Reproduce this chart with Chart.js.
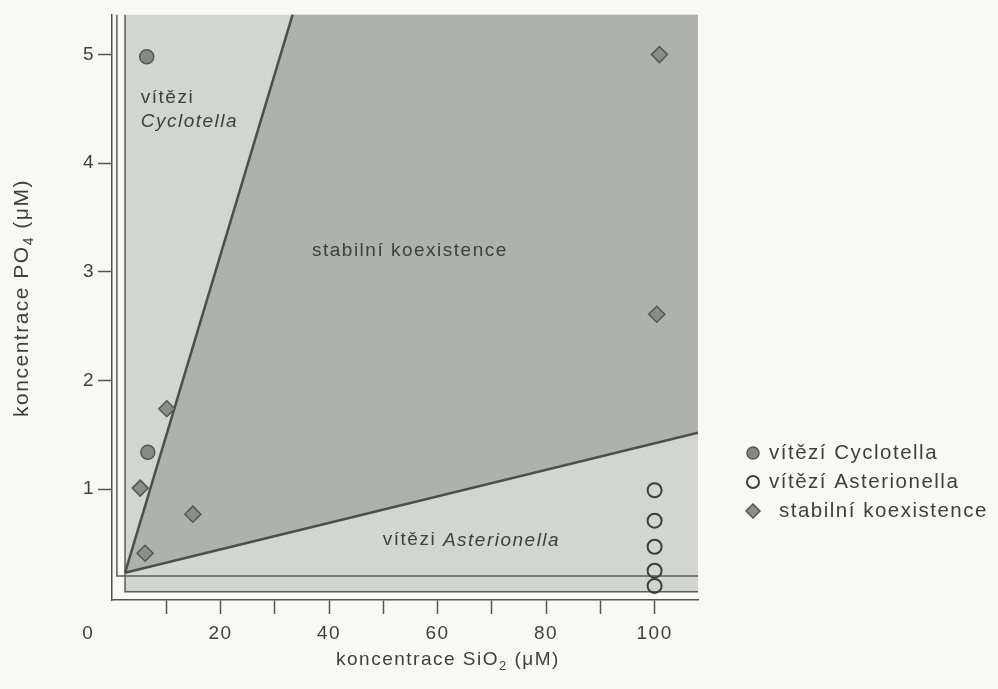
<!DOCTYPE html>
<html>
<head>
<meta charset="utf-8">
<script src="https://cdn.jsdelivr.net/npm/chart.js@4"></script>
<style>
  html, body { margin: 0; padding: 0; background: #f8f8f6; }
  canvas { display: block; }
</style>
</head>
<body>
<canvas id="grafKonkurence" width="998" height="689"></canvas>
<script>
    // body (SiO2 µM, PO4 µM)
    const vitezCyclotella = [{ x: 6.4, y: 4.98 }, { x: 6.6, y: 1.34 }];
    const vitezAsterionella = [
        { x: 100, y: 0.99 }, { x: 100, y: 0.71 }, { x: 100, y: 0.47 },
        { x: 100, y: 0.25 }, { x: 100, y: 0.11 }
    ];
    const koexistence = [
        { x: 10.1, y: 1.74 }, { x: 5.2, y: 1.01 }, { x: 14.9, y: 0.77 },
        { x: 6.1, y: 0.41 }, { x: 100.9, y: 5.0 }, { x: 100.4, y: 2.61 }
    ];

    // izokliny a spotřební vektory
    const izoklinaA = [{ x: 0.9, y: 5.37 }, { x: 0.9, y: 0.20 }, { x: 108, y: 0.20 }];
    const izoklinaB = [{ x: 2.4, y: 5.37 }, { x: 2.4, y: 0.055 }, { x: 108, y: 0.055 }];
    const vektorStrmy = [{ x: 2.4, y: 0.23 }, { x: 33.3, y: 5.37 }];
    const vektorPlochy = [{ x: 2.4, y: 0.23 }, { x: 108, y: 1.52 }];

    // oblasti
    const oblastRust = [
        { x: 2.4, y: 0.055 }, { x: 108, y: 0.055 }, { x: 108, y: 5.37 },
        { x: 2.4, y: 5.37 }, { x: 2.4, y: 0.055 }
    ];
    const oblastKoexistence = [
        { x: 2.4, y: 0.23 }, { x: 33.3, y: 5.37 }, { x: 108, y: 5.37 },
        { x: 108, y: 1.52 }, { x: 2.4, y: 0.23 }
    ];

    const xTicks = [0, 10, 20, 30, 40, 50, 60, 70, 80, 90, 100];
    const xPopisy = [0, 20, 40, 60, 80, 100];
    const yTicks = [1, 2, 3, 4, 5];

    const legenda = ['vítězí Cyclotella', 'vítězí Asterionella', 'stabilní koexistence'];

    const PISMO = "'Liberation Sans', Arial, 'DejaVu Sans', sans-serif";
    const TEXT = '#3f3f3f';

    function nastavMezery(chart) {
        chart.ctx.letterSpacing = '1.5px';
    }

    // text s dolním indexem
    function kresliText(ctx, casti, x, y, zarovnani, velikost) {
        const v = velikost || 19;
        const font = c => (c.sub ? Math.round(v * 0.68) + 'px ' : (c.it ? 'italic ' + v + 'px ' : v + 'px ')) + PISMO;
        let sirka = 0;
        casti.forEach(c => {
            ctx.font = font(c);
            sirka += ctx.measureText(c.t).width;
        });
        let cx = zarovnani === 'center' ? x - sirka / 2 : x;
        ctx.textAlign = 'left';
        ctx.textBaseline = 'middle';
        casti.forEach(c => {
            ctx.font = font(c);
            ctx.fillText(c.t, cx, c.sub ? y + v * 0.32 : y);
            cx += ctx.measureText(c.t).width;
        });
    }

    const popisky = {
        id: 'popisky',
        beforeLayout: nastavMezery,
        beforeDraw(chart) {
            nastavMezery(chart);
            const ctx = chart.ctx;
            ctx.save();
            ctx.fillStyle = '#f8f8f6';
            ctx.fillRect(0, 0, chart.width, chart.height);
            ctx.restore();
        },
        afterDatasetsDraw(chart) {
            const ctx = chart.ctx;
            const sx = chart.scales.x, sy = chart.scales.y;
            ctx.save();
            ctx.letterSpacing = '1.5px';
            ctx.fillStyle = TEXT;

            kresliText(ctx, [{ t: 'vítězi' }], sx.getPixelForValue(5.3), sy.getPixelForValue(4.6), 'left');
            kresliText(ctx, [{ t: 'Cyclotella', it: true }], sx.getPixelForValue(5.3), sy.getPixelForValue(4.38), 'left');
            kresliText(ctx, [{ t: 'stabilní koexistence' }], sx.getPixelForValue(54.9), sy.getPixelForValue(3.19), 'center');
            kresliText(ctx, [{ t: 'vítězi ' }, { t: 'Asterionella', it: true }], sx.getPixelForValue(49.9), sy.getPixelForValue(0.53), 'left');

            // názvy os
            kresliText(ctx, [{ t: 'koncentrace SiO' }, { t: '2', sub: true }, { t: ' (μM)' }], 448, 660, 'center');
            ctx.save();
            ctx.translate(22, 298);
            ctx.rotate(-Math.PI / 2);
            kresliText(ctx, [{ t: 'koncentrace PO' }, { t: '4', sub: true }, { t: ' (μM)' }], 0, 0, 'center', 21);
            ctx.restore();

            // legenda
            const radky = [453, 482, 511];
            const sady = [chart.data.datasets[0], chart.data.datasets[1], chart.data.datasets[2]];
            sady.forEach((ds, i) => {
                const mx = 753, my = radky[i];
                ctx.fillStyle = ds.pointBackgroundColor;
                ctx.strokeStyle = ds.pointBorderColor;
                ctx.lineWidth = ds.pointBorderWidth;
                Chart.helpers.drawPoint(ctx, {
                    pointStyle: ds.pointStyle,
                    radius: ds.pointRadius - 1,
                    rotation: 0,
                    borderWidth: ds.pointBorderWidth
                }, mx, my);
                ctx.fillStyle = TEXT;
                kresliText(ctx, [{ t: legenda[i] }], i === 2 ? 779 : 769, my, 'left', 20.5);
            });
            ctx.restore();
        }
    };

    const ctx = document.getElementById('grafKonkurence');

    let chart = new Chart(ctx, {
        type: 'line',
        data: {
            datasets: [
                {
                    label: legenda[0],
                    data: vitezCyclotella,
                    showLine: false,
                    pointStyle: 'circle',
                    pointRadius: 7,
                    pointBackgroundColor: '#878985',
                    pointBorderColor: '#55574f',
                    pointBorderWidth: 1.5,
                    order: 1
                },
                {
                    label: legenda[1],
                    data: vitezAsterionella,
                    showLine: false,
                    pointStyle: 'circle',
                    pointRadius: 7,
                    pointBackgroundColor: 'rgba(0,0,0,0)',
                    pointBorderColor: '#3e3e3e',
                    pointBorderWidth: 2,
                    order: 1
                },
                {
                    label: legenda[2],
                    data: koexistence,
                    showLine: false,
                    pointStyle: 'rectRot',
                    pointRadius: 8,
                    pointBackgroundColor: '#8c8e8a',
                    pointBorderColor: '#55574f',
                    pointBorderWidth: 1.5,
                    order: 1
                },
                {
                    data: vektorStrmy,
                    borderColor: '#4e4f4c',
                    borderWidth: 2.5,
                    pointRadius: 0,
                    fill: false,
                    order: 4
                },
                {
                    data: vektorPlochy,
                    borderColor: '#4e4f4c',
                    borderWidth: 2.5,
                    pointRadius: 0,
                    fill: false,
                    order: 4
                },
                {
                    data: izoklinaA,
                    borderColor: '#5c5d5a',
                    borderWidth: 1.5,
                    pointRadius: 0,
                    fill: false,
                    order: 5
                },
                {
                    data: izoklinaB,
                    borderColor: '#5c5d5a',
                    borderWidth: 1.5,
                    pointRadius: 0,
                    fill: false,
                    order: 5
                },
                {
                    data: oblastKoexistence,
                    borderWidth: 0,
                    pointRadius: 0,
                    backgroundColor: '#aeb1ac',
                    fill: 'shape',
                    order: 9
                },
                {
                    data: oblastRust,
                    borderWidth: 0,
                    pointRadius: 0,
                    backgroundColor: '#d3d5d1',
                    fill: 'shape',
                    order: 10
                }
            ]
        },
        options: {
            responsive: false,
            animation: false,
            events: [],
            layout: {
                padding: { top: 13, right: 300, left: 0, bottom: 0 }
            },
            plugins: {
                legend: { display: false },
                tooltip: { enabled: false }
            },
            scales: {
                x: {
                    type: 'linear',
                    min: 0,
                    max: 108,
                    afterFit: s => { s.height = 89; },
                    afterBuildTicks: s => { s.ticks = xTicks.map(v => ({ value: v })); },
                    border: { display: true, color: '#555', width: 1.5 },
                    grid: {
                        display: true,
                        drawOnChartArea: false,
                        drawTicks: true,
                        tickLength: 14,
                        tickWidth: 1.5,
                        tickColor: c => (c.tick && c.tick.value === 0) ? 'rgba(0,0,0,0)' : '#555'
                    },
                    ticks: {
                        autoSkip: false,
                        maxRotation: 0,
                        padding: 8,
                        color: TEXT,
                        font: { family: PISMO, size: 19 },
                        callback: v => v === 0 ? '0       ' : (xPopisy.includes(v) ? String(v) : '')
                    }
                },
                y: {
                    type: 'linear',
                    min: -0.02,
                    max: 5.37,
                    afterFit: s => { s.width = 112; },
                    afterBuildTicks: s => { s.ticks = yTicks.map(v => ({ value: v })); },
                    border: { display: true, color: '#555', width: 1.5 },
                    grid: {
                        display: true,
                        drawOnChartArea: false,
                        drawTicks: true,
                        tickLength: 14,
                        tickWidth: 1.5,
                        tickColor: '#555'
                    },
                    ticks: {
                        padding: 3,
                        color: TEXT,
                        font: { family: PISMO, size: 19 }
                    }
                }
            }
        },
        plugins: [popisky]
    });
</script>
</body>
</html>
